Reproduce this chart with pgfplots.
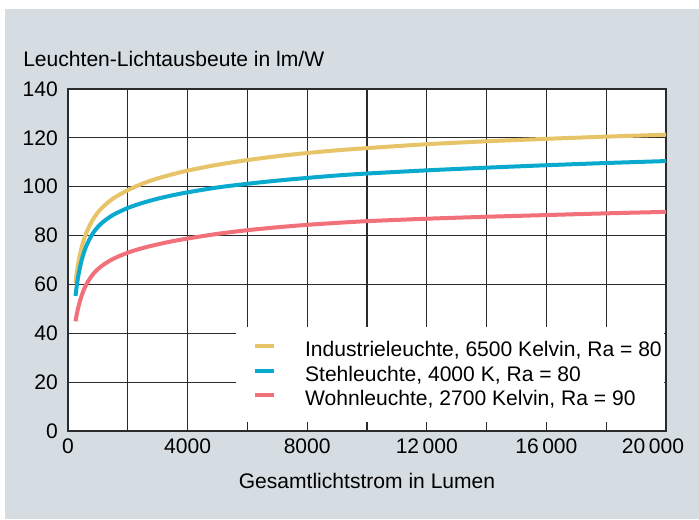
\documentclass[border=0pt]{standalone}
\usepackage{pgfplots}
\pgfplotsset{compat=1.18}
\usepackage{fontspec}
\setmainfont{Liberation Sans}
\definecolor{bg}{HTML}{D5DDE2}
\definecolor{cy}{HTML}{E8C468}
\definecolor{cb}{HTML}{0AAACE}
\definecolor{cr}{HTML}{F2707A}
\definecolor{gridc}{HTML}{2B2B2B}
\begin{document}
\fontsize{15.8}{19}\selectfont
\begin{tikzpicture}
\path[use as bounding box] (0,0) rectangle (524.25pt,389.25pt);
\fill[bg] (3.75pt,0) rectangle (524.25pt,382.5pt);
\node[anchor=base west, inner sep=0pt] at (17.25pt,339.75pt) {Leuchten-Lichtausbeute in lm/W};
\begin{axis}[
 at={(51pt,66pt)}, anchor=south west, scale only axis,
 width=448.5pt, height=256.5pt,
 xmin=0, xmax=20000, ymin=0, ymax=140,
 axis background/.style={fill=white},
 xtick={0,4000,...,20000},
 minor xtick={2000,6000,...,18000},
 ytick={0,20,...,140},
 xticklabels={0,4000,8000,12\,000,16\,000,\hspace*{-19.5pt}20\,000},
 grid=both,
 major grid style={draw=gridc, line width=0.8pt},
 minor grid style={draw=gridc, line width=0.8pt},
 axis line style={draw=gridc, line width=0.8pt},
 major tick length=0pt, minor tick length=0pt,
 /pgf/number format/assume math mode=true,
 yticklabel style={inner sep=0pt, xshift=-7.5pt},
 xticklabel style={inner sep=0pt, yshift=-6pt},
 scaled x ticks=false,
 xlabel={Gesamtlichtstrom in Lumen},
 xlabel style={at={(axis description cs:0.5,0)}, anchor=base, yshift=-42.75pt, inner sep=0pt},
 legend cell align=left,
 legend style={at={(1,0)}, anchor=south east, xshift=-1.5pt, yshift=6.75pt, draw=none, fill=white, inner xsep=12.75pt, inner ysep=8pt, column sep=21.75pt, row sep=0pt, nodes={inner sep=0pt, text height=14.45pt, text depth=3.95pt}},
 legend image code/.code={\draw[#1, line width=3pt] (0pt,2.8pt) -- (14pt,2.8pt);},
 every axis plot/.append style={line width=3pt, smooth},
]
\addplot[cy] coordinates {
(250,60.6) (330,67.8) (450,74.9) (600,80.7) (825,86.4) (1100,90.9) (1500,95.1) (2000,98.6) (2500,101.3) (3000,103.4) (3500,105.1) (4000,106.6) (5000,109.0) (6000,110.9) (7000,112.5) (8000,113.8) (9000,114.9) (10000,115.8) (12000,117.4) (14000,118.6) (16000,119.6) (18000,120.5) (20000,121.3)};
\addlegendentry{Industrieleuchte, 6500 Kelvin, Ra = 80\hspace*{-11.25pt}}
\addplot[cb] coordinates {
(250,55.3) (330,62.5) (450,69.6) (600,75.4) (825,80.8) (1100,84.8) (1500,88.4) (2000,91.3) (2500,93.4) (3000,95.1) (3500,96.5) (4000,97.7) (5000,99.7) (6000,101.2) (7000,102.5) (8000,103.6) (9000,104.6) (10000,105.4) (12000,106.7) (14000,107.8) (16000,108.8) (18000,109.7) (20000,110.5)};
\addlegendentry{Stehleuchte, 4000 K, Ra = 80}
\addplot[cr] coordinates {
(250,44.9) (330,49.9) (450,55.2) (600,59.7) (825,64.0) (1100,67.3) (1500,70.4) (2000,73.0) (2500,74.9) (3000,76.4) (3500,77.7) (4000,78.8) (5000,80.7) (6000,82.2) (7000,83.4) (8000,84.4) (9000,85.2) (10000,85.9) (12000,86.9) (14000,87.7) (16000,88.4) (18000,89.1) (20000,89.7)};
\addlegendentry{Wohnleuchte, 2700 Kelvin, Ra = 90}
\end{axis}
\end{tikzpicture}
\end{document}
